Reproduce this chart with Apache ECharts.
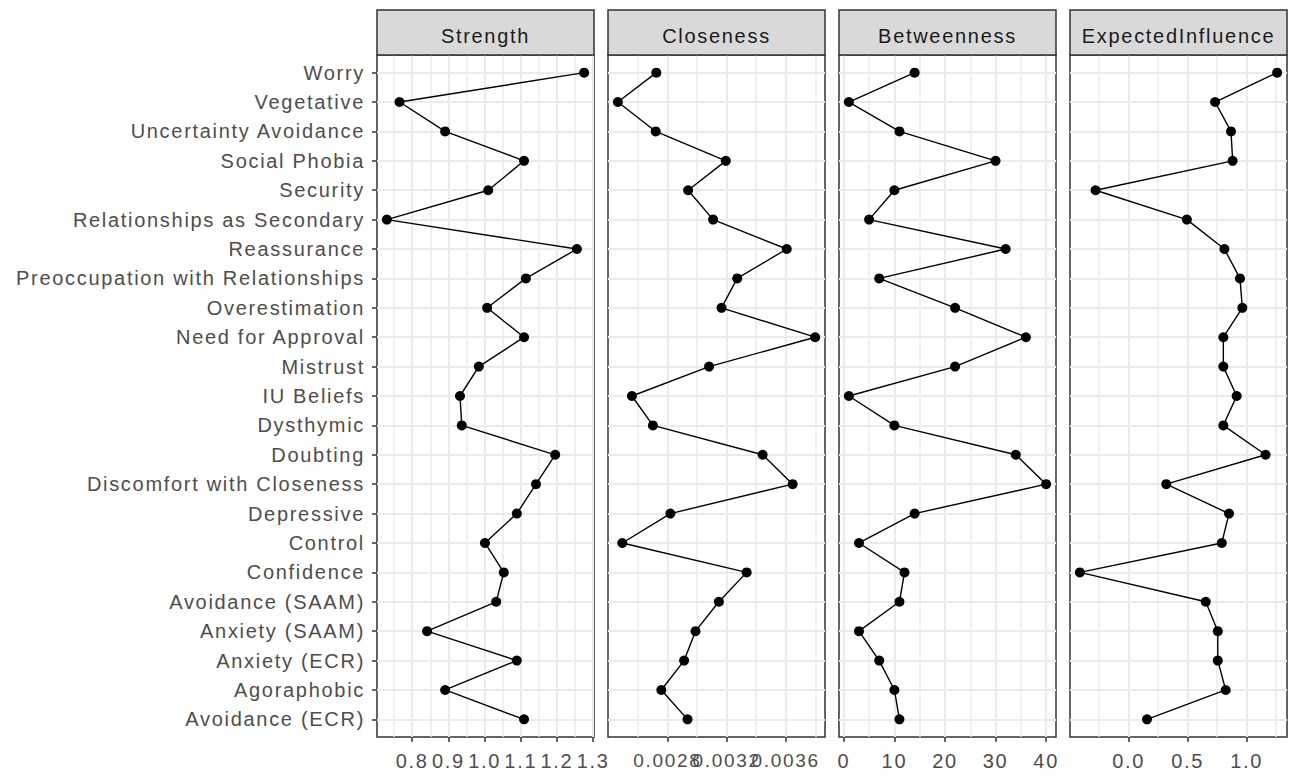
<!DOCTYPE html>
<html>
<head>
<meta charset="utf-8">
<script src="https://cdn.jsdelivr.net/npm/echarts@6/dist/echarts.min.js"></script>
<style>
html,body{margin:0;padding:0;background:#fff;}
#chart{width:1292px;height:776px;}
#chart text{letter-spacing:1.7px;}
</style>
</head>
<body>
<div id="chart"></div>
<script>
// Categories, bottom (index 0) to top
const categories = ["Avoidance (ECR)","Agoraphobic","Anxiety (ECR)","Anxiety (SAAM)","Avoidance (SAAM)","Confidence","Control","Depressive","Discomfort with Closeness","Doubting","Dysthymic","IU Beliefs","Mistrust","Need for Approval","Overestimation","Preoccupation with Relationships","Reassurance","Relationships as Secondary","Security","Social Phobia","Uncertainty Avoidance","Vegetative","Worry"];

const panelTitles = ["Strength","Closeness","Betweenness","ExpectedInfluence"];

const strength = [1.109,0.891,1.089,0.841,1.032,1.053,1.001,1.089,1.142,1.195,0.937,0.932,0.984,1.109,1.007,1.114,1.255,0.730,1.010,1.109,0.891,0.765,1.275];
const closeness = [0.002936,0.002759,0.002913,0.002990,0.003148,0.003336,0.002495,0.002820,0.003647,0.003444,0.002702,0.002560,0.003082,0.003799,0.003166,0.003272,0.003607,0.003109,0.002940,0.003195,0.002721,0.002465,0.002725];
const betweenness = [11,10,7,3,11,12,3,14,40,34,10,1,22,36,22,7,32,5,10,30,11,1,14];
const expectedInfluence = [0.155,0.822,0.755,0.755,0.653,-0.414,0.789,0.850,0.318,1.160,0.802,0.915,0.802,0.802,0.963,0.943,0.811,0.493,-0.281,0.881,0.867,0.732,1.258];

const strengthTicks = [0.8,0.9,1.0,1.1,1.2,1.3];
const strengthMinor = [0.75,0.85,0.95,1.05,1.15,1.25];
const closenessTicks = [0.0028,0.0032,0.0036];
const closenessMinor = [0.0026,0.0030,0.0034,0.0038];
const betweennessTicks = [0,10,20,30,40];
const betweennessMinor = [5,15,25,35];
const eiTicks = [0.0,0.5,1.0];
const eiMinor = [-0.25,0.25,0.75,1.25];

const tickDecimals = [1,4,0,1];
const tickFontSize = [20,19,20,20];

const seriesValues = [strength, closeness, betweenness, expectedInfluence];
const majorTicks = [strengthTicks, closenessTicks, betweennessTicks, eiTicks];
const minorTicks = [strengthMinor, closenessMinor, betweennessMinor, eiMinor];

const FONT = "'Liberation Sans', Arial, sans-serif";
const rowIdx = categories.map((_, i) => i);

const panelLeft = 377, panelW = 217, panelGap = 14, panelTop = 55, panelH = 682;
const stripTop = 10, stripH = 45;

const grids = [], xAxes = [], yAxes = [], series = [], graphics = [];

seriesValues.forEach((vals, p) => {
  const dmin = Math.min(...vals), dmax = Math.max(...vals);
  const pad = (dmax - dmin) * 0.05;
  const xmin = dmin - pad, xmax = dmax + pad;
  const left = panelLeft + p * (panelW + panelGap);
  grids.push({left: left, top: panelTop, width: panelW, height: panelH,
    show: true, borderColor: '#333333', borderWidth: 1.5, backgroundColor: '#ffffff', containLabel: false});
  // major axis: labels, ticks, major grid lines
  xAxes.push({
    type: 'value', gridIndex: p, min: xmin, max: xmax, position: 'bottom',
    axisLine: {show: false, onZero: false},
    axisTick: {show: true, inside: false, length: 5, lineStyle: {color: '#333333', width: 1.5}, customValues: majorTicks[p]},
    axisLabel: {show: true, customValues: majorTicks[p], color: '#4D4D4D', fontSize: tickFontSize[p], fontFamily: FONT, margin: 14,
      hideOverlap: false, interval: 0,
      formatter: v => Number(v).toFixed(tickDecimals[p]), showMinLabel: true, showMaxLabel: true},
    splitLine: {show: true, lineStyle: {color: '#EBEBEB', width: 2}}
  });
  // minor grid lines
  xAxes.push({
    type: 'value', gridIndex: p, min: xmin, max: xmax, position: 'top',
    axisLine: {show: false, onZero: false},
    axisTick: {show: false, customValues: minorTicks[p]},
    axisLabel: {show: false, customValues: minorTicks[p]},
    splitLine: {show: true, lineStyle: {color: '#EBEBEB', width: 1.5}}
  });
  yAxes.push({
    type: 'value', gridIndex: p, min: -0.6, max: categories.length - 1 + 0.6, position: 'left',
    axisLine: {show: false, onZero: false},
    axisTick: {show: p === 0, inside: false, length: 5, lineStyle: {color: '#333333', width: 1.5}, customValues: rowIdx},
    axisLabel: {show: p === 0, customValues: rowIdx, color: '#4D4D4D', fontSize: 20, fontFamily: FONT, margin: 12,
      hideOverlap: false, interval: 0,
      formatter: v => categories[Math.round(v)]},
    splitLine: {show: true, lineStyle: {color: '#EBEBEB', width: 2}}
  });
  series.push({
    type: 'line', xAxisIndex: 2 * p, yAxisIndex: p,
    data: vals.map((v, i) => [v, i]),
    symbol: 'circle', symbolSize: 10, showSymbol: true,
    itemStyle: {color: '#000000'},
    lineStyle: {color: '#000000', width: 1.4},
    z: 5, silent: true
  });
  graphics.push({
    type: 'rect', shape: {x: left, y: stripTop, width: panelW, height: stripH},
    style: {fill: '#D9D9D9', stroke: '#333333', lineWidth: 1.5}, z: 10
  });
  graphics.push({
    type: 'text', x: left + panelW / 2, y: stripTop + stripH / 2 + 3,
    style: {text: panelTitles[p], fill: '#1A1A1A', font: '20px ' + FONT, align: 'center', verticalAlign: 'middle'}, z: 11
  });
});

const chart = echarts.init(document.getElementById('chart'), null, {renderer: 'svg', width: 1292, height: 776});
chart.setOption({
  animation: false,
  backgroundColor: '#ffffff',
  grid: grids,
  xAxis: xAxes,
  yAxis: yAxes,
  series: series,
  graphic: graphics
});
</script>
</body>
</html>
